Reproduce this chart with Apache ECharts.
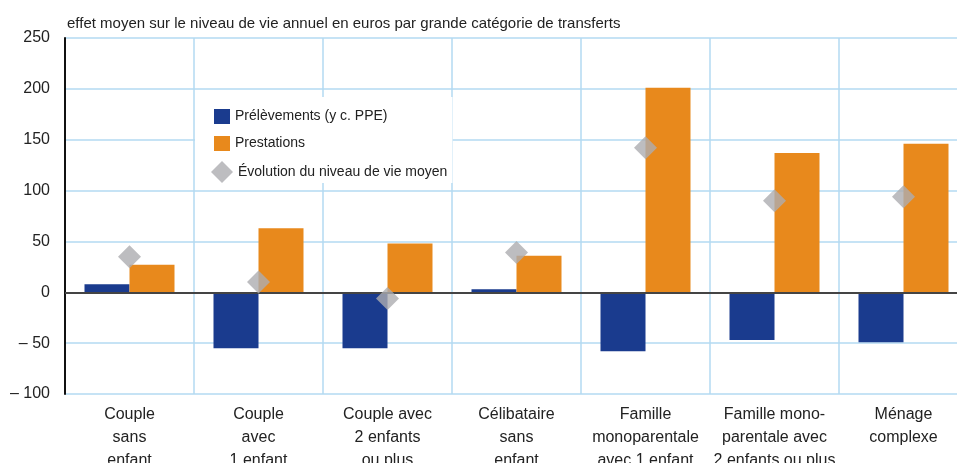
<!DOCTYPE html>
<html>
<head>
<meta charset="utf-8">
<script src="https://cdn.jsdelivr.net/npm/echarts@6/dist/echarts.min.js"></script>
<style>
  html, body { margin: 0; padding: 0; background: #fff; }
  #main { width: 957px; height: 463px; }
</style>
</head>
<body>
<div id="main"></div>
<script type="text/javascript">
    // catégories de ménages
    var categories = [
        'Couple\nsans\nenfant',
        'Couple\navec\n1 enfant',
        'Couple avec\n2 enfants\nou plus',
        'Célibataire\nsans\nenfant',
        'Famille\nmonoparentale\navec 1 enfant',
        'Famille mono-\nparentale avec\n2 enfants ou plus',
        'Ménage\ncomplexe'
    ];
    var prelevements = [8, -55, -55, 3, -58, -47, -49];
    var prestations = [27, 63, 48, 36, 201, 137, 146];
    var evolution = [35, 10, -6, 39, 142, 90, 94];
    var yTicks = [-100, -50, 0, 50, 100, 150, 200, 250];

    var fontName = "'Liberation Sans', Arial, sans-serif";
    var gridColor = '#b3daf2';
    var legendText = { fontFamily: fontName, fontSize: 14, color: '#222' };

    var myChart = echarts.init(document.getElementById('main'));
    var option = {
        animation: false,
        title: {
            text: 'effet moyen sur le niveau de vie annuel en euros par grande catégorie de transferts',
            left: 62,
            top: 11,
            textStyle: { fontFamily: fontName, fontSize: 15, fontWeight: 'normal', color: '#222' }
        },
        legend: [
            {
                // les deux barres, avec le cadre blanc
                orient: 'vertical',
                left: 195,
                top: 97,
                backgroundColor: '#fff',
                padding: [12, 65, 32, 19],
                itemWidth: 16,
                itemHeight: 15,
                itemGap: 12,
                icon: 'rect',
                textStyle: legendText,
                data: ['Prélèvements (y c. PPE)', 'Prestations']
            },
            {
                // le losange, plus grand
                orient: 'vertical',
                left: 211,
                top: 161,
                z: 5,
                padding: 0,
                itemWidth: 22,
                itemHeight: 22,
                textStyle: legendText,
                data: [{ name: 'Évolution du niveau de vie moyen', icon: 'diamond' }]
            }
        ],
        grid: { left: 65, right: -11, top: 38, bottom: 69, outerBoundsMode: 'none', containLabel: false },
        xAxis: {
            type: 'category',
            data: categories,
            axisLine: { show: false },
            axisTick: { show: false },
            splitLine: { show: true, interval: 0, lineStyle: { color: gridColor, width: 1.5 } },
            axisLabel: {
                interval: 0,
                margin: 9,
                lineHeight: 23,
                fontFamily: fontName,
                fontSize: 16,
                color: '#222'
            }
        },
        yAxis: {
            type: 'value',
            min: yTicks[0],
            max: yTicks[yTicks.length - 1],
            interval: 50,
            axisLine: { show: true, lineStyle: { color: '#111', width: 2 } },
            axisTick: { show: false },
            splitLine: { show: true, lineStyle: { color: gridColor, width: 1.5 } },
            axisLabel: {
                margin: 15,
                fontFamily: fontName,
                fontSize: 16,
                color: '#222',
                formatter: function (v) { return v < 0 ? '– ' + Math.abs(v) : String(v); }
            }
        },
        series: [
            {
                name: 'Prélèvements (y c. PPE)',
                type: 'bar',
                barWidth: 45,
                barGap: '0%',
                itemStyle: { color: '#1a3b8e' },
                data: prelevements,
                markLine: {
                    silent: true,
                    symbol: 'none',
                    label: { show: false },
                    lineStyle: { color: '#444', width: 2, type: 'solid' },
                    data: [{ yAxis: 0 }]
                }
            },
            {
                name: 'Prestations',
                type: 'bar',
                barWidth: 45,
                itemStyle: { color: '#e8891c' },
                data: prestations
            },
            {
                name: 'Évolution du niveau de vie moyen',
                type: 'scatter',
                symbol: 'diamond',
                symbolSize: 23,
                z: 5,
                itemStyle: { color: '#adadb0' },
                data: evolution
            }
        ]
    };
    myChart.setOption(option);
</script>
</body>
</html>
